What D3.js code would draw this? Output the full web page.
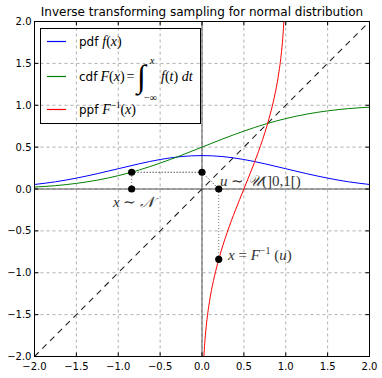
<!DOCTYPE html>
<html>
<head>
<meta charset="utf-8">
<script src="https://cdn.jsdelivr.net/npm/d3@7"></script>
<style>
  body { margin: 0; background: #fff; }
  text { font-family: "DejaVu Sans", sans-serif; }
  .math { font-family: "Liberation Serif", serif; font-style: italic; }
  .mr { font-family: "Liberation Serif", serif; font-style: normal; }
</style>
</head>
<body>
<script>
// values
var gridX = [-2, -1.75, -1.5, -1.25, -1, -0.75, -0.5, -0.25, 0, 0.25, 0.5, 0.75, 1, 1.25, 1.5, 1.75, 2];
var pdfVals = [0.054, 0.086, 0.130, 0.183, 0.242, 0.301, 0.352, 0.387, 0.399, 0.387, 0.352, 0.301, 0.242, 0.183, 0.130, 0.086, 0.054];
var cdfVals = [0.023, 0.040, 0.067, 0.106, 0.159, 0.227, 0.309, 0.401, 0.5, 0.599, 0.691, 0.773, 0.841, 0.894, 0.933, 0.960, 0.977];
var ppfU = [0.0228, 0.025, 0.03, 0.04, 0.06, 0.08, 0.1, 0.15, 0.2, 0.3, 0.4, 0.5, 0.6, 0.7, 0.8, 0.85, 0.9, 0.92, 0.94, 0.96, 0.97, 0.975, 0.9772];
var ppfVals = [-2.0, -1.96, -1.88, -1.75, -1.555, -1.405, -1.28, -1.036, -0.84, -0.52, -0.25, 0, 0.25, 0.52, 0.84, 1.036, 1.28, 1.405, 1.555, 1.75, 1.88, 1.96, 2.0];
var ticks = [-2, -1.5, -1, -0.5, 0, 0.5, 1, 1.5, 2];
var sampleX = -0.84, sampleU = 0.2;

const W = 382, H = 378;
const pL = 34.5, pR = 369.5, pT = 21.5, pB = 356.5;

const svg = d3.select("body").append("svg")
    .attr("width", W).attr("height", H);

const x = d3.scaleLinear().domain([-2, 2]).range([pL, pR]);
const y = d3.scaleLinear().domain([-2, 2]).range([pB, pT]);

svg.append("defs").append("clipPath").attr("id", "clip")
  .append("rect").attr("x", pL).attr("y", pT)
  .attr("width", pR - pL).attr("height", pB - pT);

// grid
const grid = svg.append("g");
grid.selectAll(".gx").data(ticks.slice(1, -1)).enter().append("line")
    .attr("x1", d => x(d)).attr("x2", d => x(d))
    .attr("y1", pT).attr("y2", pB)
    .attr("stroke", "#b0b0b0").attr("stroke-dasharray", "3,3");
grid.selectAll(".gy").data(ticks.slice(1, -1)).enter().append("line")
    .attr("y1", d => y(d)).attr("y2", d => y(d))
    .attr("x1", pL).attr("x2", pR)
    .attr("stroke", "#b0b0b0").attr("stroke-dasharray", "3,3");

const plot = svg.append("g").attr("clip-path", "url(#clip)");

// axes lines through zero
plot.append("line").attr("x1", pL).attr("x2", pR)
    .attr("y1", y(0)).attr("y2", y(0)).attr("stroke", "#555");
plot.append("line").attr("y1", pT).attr("y2", pB)
    .attr("x1", x(0)).attr("x2", x(0)).attr("stroke", "#555");

// y = x
plot.append("line")
    .attr("x1", x(-2)).attr("y1", y(-2)).attr("x2", x(2)).attr("y2", y(2))
    .attr("stroke", "#222").attr("stroke-width", 1.1).attr("stroke-dasharray", "6,5");

const line = d3.line().curve(d3.curveMonotoneX);

plot.append("path")
    .attr("d", line(gridX.map((v, i) => [x(v), y(pdfVals[i])])))
    .attr("fill", "none").attr("stroke", "#0000ff");
plot.append("path")
    .attr("d", line(gridX.map((v, i) => [x(v), y(cdfVals[i])])))
    .attr("fill", "none").attr("stroke", "#008000");
plot.append("path")
    .attr("d", line(ppfU.map((v, i) => [x(v), y(ppfVals[i])])))
    .attr("fill", "none").attr("stroke", "#ff0000");

// sampling path
const dotted = [
  [[sampleX, 0], [sampleX, sampleU], "#777"],
  [[sampleX, sampleU], [0, sampleU], "#000"],
  [[0, sampleU], [sampleU, 0], "#000"],
  [[sampleU, 0], [sampleU, sampleX], "#777"]
];
plot.selectAll(".dl").data(dotted).enter().append("line")
    .attr("x1", d => x(d[0][0])).attr("y1", d => y(d[0][1]))
    .attr("x2", d => x(d[1][0])).attr("y2", d => y(d[1][1]))
    .attr("stroke", d => d[2]).attr("stroke-dasharray", "1,2");

const dots = [[sampleX, 0], [sampleX, sampleU], [0, sampleU], [sampleU, 0], [sampleU, sampleX]];
plot.selectAll(".dot").data(dots).enter().append("circle")
    .attr("cx", d => x(d[0])).attr("cy", d => y(d[1])).attr("r", 3.6)
    .attr("fill", "#000");

// annotations
const ann1 = svg.append("text").attr("x", 113).attr("y", 207)
    .attr("font-size", 15).attr("fill", "#333");
ann1.append("tspan").attr("class", "math").text("x");
ann1.append("tspan").attr("class", "mr").text(" ∼ ");
ann1.append("tspan").attr("class", "math").text("𝒩");

const ann2 = svg.append("text").attr("x", 220).attr("y", 186)
    .attr("font-size", 15).attr("fill", "#333");
ann2.append("tspan").attr("class", "math").text("u");
ann2.append("tspan").attr("class", "mr").text(" ∼ ");
ann2.append("tspan").attr("class", "math").text("𝒰");
ann2.append("tspan").attr("class", "mr").text("(]0,1[)");

const ann3 = svg.append("text").attr("x", 228).attr("y", 260)
    .attr("font-size", 15).attr("fill", "#333");
ann3.append("tspan").attr("class", "math").text("x");
ann3.append("tspan").attr("class", "mr").text(" = ");
ann3.append("tspan").attr("class", "math").text("F");
ann3.append("tspan").attr("class", "mr").attr("font-size", 10).attr("dy", -6).text("−1");
ann3.append("tspan").attr("class", "mr").attr("dy", 6).text(" (");
ann3.append("tspan").attr("class", "math").text("u");
ann3.append("tspan").attr("class", "mr").text(")");

// frame and ticks
svg.append("rect").attr("x", pL).attr("y", pT)
    .attr("width", pR - pL).attr("height", pB - pT)
    .attr("fill", "none").attr("stroke", "#000");

const tk = svg.append("g").attr("stroke", "#000");
ticks.forEach(t => {
  tk.append("line").attr("x1", x(t)).attr("x2", x(t)).attr("y1", pB).attr("y2", pB - 4);
  tk.append("line").attr("x1", x(t)).attr("x2", x(t)).attr("y1", pT).attr("y2", pT + 4);
  tk.append("line").attr("y1", y(t)).attr("y2", y(t)).attr("x1", pL).attr("x2", pL + 4);
  tk.append("line").attr("y1", y(t)).attr("y2", y(t)).attr("x1", pR).attr("x2", pR - 4);
});

const fmt = d => (d < 0 ? "−" : "") + Math.abs(d).toFixed(1);
svg.selectAll(".xt").data(ticks).enter().append("text")
    .attr("x", d => x(d)).attr("y", pB + 13)
    .attr("text-anchor", "middle").attr("font-size", 10).text(fmt);
svg.selectAll(".yt").data(ticks).enter().append("text")
    .attr("x", pL - 3).attr("y", d => y(d) + 3.5)
    .attr("text-anchor", "end").attr("font-size", 10).text(fmt);

svg.append("text").attr("x", (pL + pR) / 2).attr("y", 16)
    .attr("text-anchor", "middle").attr("font-size", 12)
    .text("Inverse transforming sampling for normal distribution");

// legend
const lg = svg.append("g");
lg.append("rect").attr("x", 40.5).attr("y", 28.5).attr("width", 160).attr("height", 95)
    .attr("fill", "none").attr("stroke", "#000");
const legendColors = ["#0000ff", "#008000", "#ff0000"];
const legendY = [41.5, 76.5, 109.5];
legendColors.forEach((c, i) => {
  lg.append("line").attr("x1", 47).attr("x2", 66)
    .attr("y1", legendY[i]).attr("y2", legendY[i])
    .attr("stroke", c).attr("stroke-width", 1.2);
});

const t1 = lg.append("text").attr("x", 79).attr("y", 46).attr("font-size", 12);
t1.append("tspan").text("pdf ");
t1.append("tspan").attr("class", "math").attr("font-size", 14).text("f");
t1.append("tspan").attr("class", "mr").attr("font-size", 14).text("(");
t1.append("tspan").attr("class", "math").attr("font-size", 14).text("x");
t1.append("tspan").attr("class", "mr").attr("font-size", 14).text(")");

const t2 = lg.append("text").attr("x", 79).attr("y", 81).attr("font-size", 12);
t2.append("tspan").text("cdf");
t2.append("tspan").attr("class", "math").attr("font-size", 14).attr("dx", 3).text("F");
t2.append("tspan").attr("class", "mr").attr("font-size", 14).text("(");
t2.append("tspan").attr("class", "math").attr("font-size", 14).text("x");
t2.append("tspan").attr("class", "mr").attr("font-size", 14).text(")");
t2.append("tspan").attr("class", "mr").attr("font-size", 14).attr("dx", 2).text("=");
lg.append("text").attr("class", "mr").attr("x", 137).attr("y", 87).attr("font-size", 32).text("∫");
lg.append("text").attr("class", "math").attr("x", 150).attr("y", 64).attr("font-size", 10).text("x");
lg.append("text").attr("class", "mr").attr("x", 144).attr("y", 101).attr("font-size", 10).text("−∞");
const t2b = lg.append("text").attr("x", 161).attr("y", 81).attr("font-size", 14);
t2b.append("tspan").attr("class", "math").text("f");
t2b.append("tspan").attr("class", "mr").text("(");
t2b.append("tspan").attr("class", "math").text("t");
t2b.append("tspan").attr("class", "mr").text(") ");
t2b.append("tspan").attr("class", "math").text("dt");

const t3 = lg.append("text").attr("x", 79).attr("y", 114).attr("font-size", 12);
t3.append("tspan").text("ppf ");
t3.append("tspan").attr("class", "math").attr("font-size", 14).text("F");
t3.append("tspan").attr("class", "mr").attr("font-size", 9).attr("dy", -6).text("−1");
t3.append("tspan").attr("class", "mr").attr("font-size", 14).attr("dy", 6).text("(");
t3.append("tspan").attr("class", "math").attr("font-size", 14).text("x");
t3.append("tspan").attr("class", "mr").attr("font-size", 14).text(")");
</script>
</body>
</html>
